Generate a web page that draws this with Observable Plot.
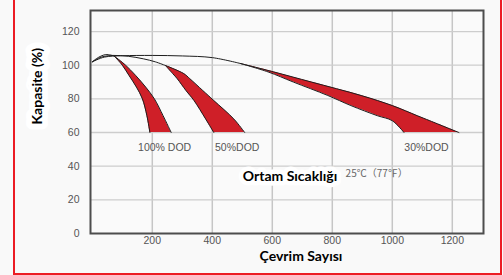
<!DOCTYPE html>
<html><head><meta charset="utf-8">
<script src="https://cdn.jsdelivr.net/npm/d3@7"></script>
<script src="https://cdn.jsdelivr.net/npm/@observablehq/plot@0.6"></script>
<style>
body{margin:0;background:#fff;}
#wrap{position:relative;width:503px;height:275px;overflow:hidden;background:#f9f9f9;}
#wrap svg{position:absolute;left:0;top:0;}
.rb{position:absolute;background:#ec1c24;}
</style></head><body>
<div id="wrap"></div>
<script>
// Axis ticks
const xTicks = [200, 400, 600, 800, 1000, 1200];
const yTicks = [0, 20, 40, 60, 80, 100, 120];

// Lead-in curves (cycles, capacity %) from start to where each band begins
const lead100Cycles = [0, 20, 45, 72];
const lead100Cap    = [102, 104.6, 106.3, 105.6];
const lead50Cycles  = [0, 30, 70, 120, 170, 210, 244];
const lead50Cap     = [102, 104.8, 105.8, 105.3, 103.8, 102, 99.8];
const lead30Cycles  = [0, 40, 100, 200, 300, 400, 494];
const lead30Cap     = [102, 104.8, 105.6, 105.8, 105.5, 104.5, 101];

// Bands: capacity levels with inner (left) and outer (right) cycle counts
const band100Cap   = [105.6, 100, 94, 87, 80, 70, 60];
const band100Inner = [72, 100, 122, 147, 167, 182, 192];
const band100Outer = [72, 111, 144, 178, 207, 236, 263];

const band50Cap    = [99.8, 95, 92, 85, 79, 68, 60];
const band50Inner  = [244, 268, 283, 312, 339, 378, 405];
const band50Outer  = [244, 305, 325, 368, 405, 472, 508];

const band30Cap    = [101, 96, 90, 82, 76, 70, 67, 60];
const band30Inner  = [494, 586, 670, 785, 862, 950, 1000, 1039];
const band30Outer  = [494, 605, 730, 896, 1000, 1083, 1125, 1222];

// Annotations
const dodLabels = ["100% DOD", "50%DOD", "30%DOD"];
const dodLabelX = [241, 483, 1114];
const dodLabelY = [51.3, 51.3, 51.3];
const tempTitle = "Ortam Sıcaklığı";
const tempTitleX = 659, tempTitleY = 34;
const tempValue = "25℃（77℉）";
const tempValueX = 948, tempValueY = 35.2;
const xLabel = "Çevrim Sayısı";
const yLabel = "Kapasite (%)";

const pts = (xs, ys) => xs.map((x, i) => ({x, y: ys[i]}));
const band = (cap, inn, out) => cap.map((c, i) => ({cap: c, inner: inn[i], outer: out[i]}));
const bands = [
  band(band100Cap, band100Inner, band100Outer),
  band(band50Cap, band50Inner, band50Outer),
  band(band30Cap, band30Inner, band30Outer)
];
const leads = [pts(lead100Cycles, lead100Cap), pts(lead50Cycles, lead50Cap), pts(lead30Cycles, lead30Cap)];
const dodRows = dodLabels.map((t, i) => ({t, x: dodLabelX[i], y: dodLabelY[i]}));

const RED = "#cf1f28", INK = "#1e1e1e";
const bandMarks = bands.flatMap(b => [
  Plot.areaX(b, {y: "cap", x1: "inner", x2: "outer", fill: RED, curve: "catmull-rom"}),
  Plot.lineX(b, {y: "cap", x: "inner", stroke: INK, strokeWidth: 1, curve: "catmull-rom"}),
  Plot.lineX(b, {y: "cap", x: "outer", stroke: INK, strokeWidth: 1, curve: "catmull-rom"})
]);
const leadMarks = leads.map(l => Plot.line(l, {x: "x", y: "y", stroke: INK, strokeWidth: 1, curve: "catmull-rom"}));

const chart = Plot.plot({
  width: 503, height: 275,
  marginLeft: 90, marginRight: 20, marginTop: 10, marginBottom: 42,
  x: {domain: [-6, 1304]},
  y: {domain: [0, 132.5]},
  style: {fontFamily: "'Liberation Sans', Arial, sans-serif", background: "transparent", overflow: "visible"},
  marks: [
    Plot.frame({fill: "#fafafa", stroke: null}),
    Plot.gridX(xTicks, {stroke: "#c6c6c6", strokeOpacity: 1, strokeWidth: 1.5}),
    Plot.gridY(yTicks.filter(d => d > 0), {stroke: "#cdcdcd", strokeOpacity: 1, strokeWidth: 1.3}),
    ...bandMarks,
    ...leadMarks,
    Plot.frame({stroke: "#4d4d4d", strokeWidth: 2}),
    Plot.axisX(xTicks, {tickSize: 0, tickPadding: 3, fontSize: 10.5, fill: "#555", label: null, tickFormat: d => String(d)}),
    Plot.axisY(yTicks, {tickSize: 0, tickPadding: 11, fontSize: 10.5, fill: "#555", label: null, tickFormat: d => String(d)}),
    Plot.text(dodRows, {x: "x", y: "y", text: "t", fontSize: 10.5, fill: "#555"}),
    Plot.text([tempTitle], {x: () => tempTitleX, y: () => tempTitleY, text: d => d, fontSize: 14, fontWeight: "bold",
      fontFamily: "Lato, sans-serif", fill: "#000", stroke: "white", strokeWidth: 9}),
    Plot.text([tempValue], {x: () => tempValueX, y: () => tempValueY, text: d => d, fontSize: 10,
      fontFamily: "'Noto Sans CJK SC', serif", fill: "#666"}),
    Plot.text([xLabel], {frameAnchor: "bottom", dx: 14, dy: 27, text: d => d, fontSize: 14, fontWeight: "bold",
      fontFamily: "Lato, sans-serif", fill: "#000"}),
    Plot.text([yLabel], {frameAnchor: "left", dx: -53, dy: 2.5, rotate: -90, text: d => d, fontSize: 14, fontWeight: "bold",
      fontFamily: "Lato, sans-serif", fill: "#000", stroke: "white", strokeWidth: 12})
  ]
});
const wrap = document.getElementById("wrap");
wrap.appendChild(chart);
for (const s of [
  "left:13px;top:0;width:2px;height:275px",
  "left:500px;top:0;width:2px;height:275px",
  "left:13px;top:273px;width:489px;height:2px"
]) { const d = document.createElement("div"); d.className = "rb"; d.style.cssText = s; wrap.appendChild(d); }
</script>
</body></html>
